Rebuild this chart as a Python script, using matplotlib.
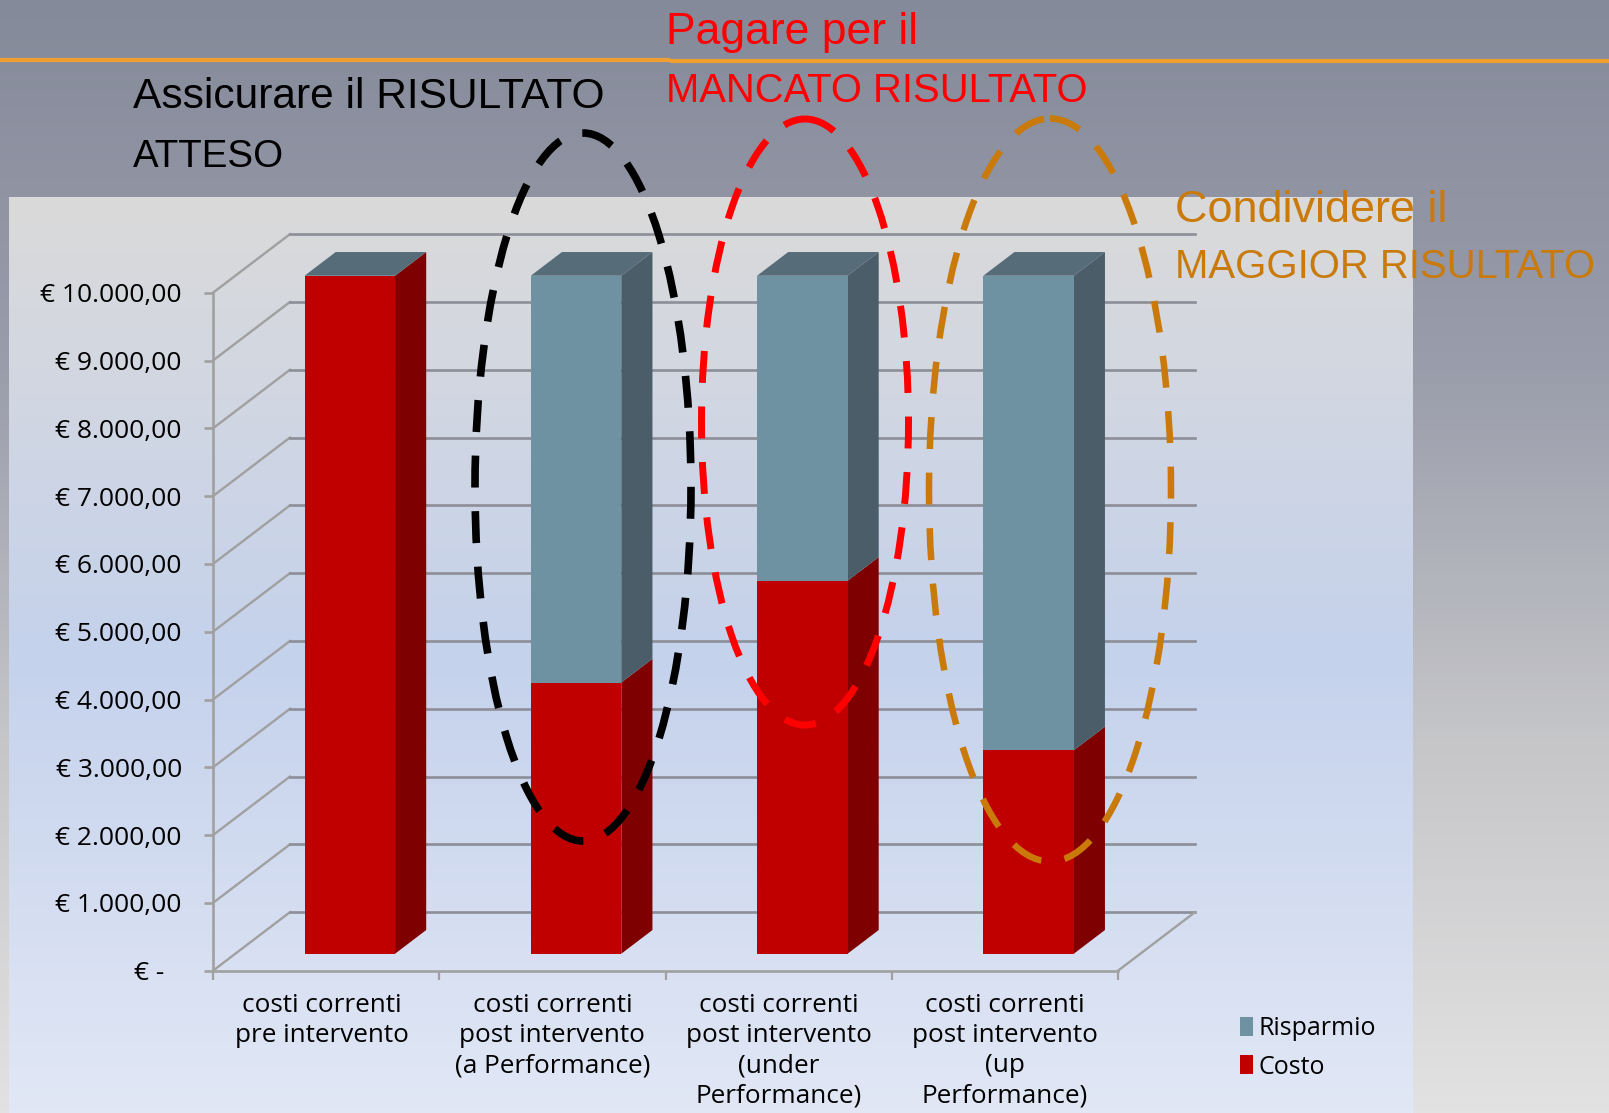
import numpy as np
import matplotlib
matplotlib.use("Agg")
import matplotlib.pyplot as plt
from matplotlib.colors import LinearSegmentedColormap
from matplotlib.patches import Ellipse, Patch, Polygon
from matplotlib.transforms import ScaledTranslation

# ========================
# data
# ========================
categories = [
    "costi correnti\npre intervento",
    "costi correnti\npost intervento\n(a Performance)",
    "costi correnti\npost intervento\n(under\nPerformance)",
    "costi correnti\npost intervento\n(up\nPerformance)",
]
costo = [10000, 4000, 5500, 3000]
risparmio = [0, 6000, 4500, 7000]
y_ticks = [0, 1000, 2000, 3000, 4000, 5000, 6000, 7000, 8000, 9000, 10000]
y_labels = ["€ -", "€ 1.000,00", "€ 2.000,00", "€ 3.000,00", "€ 4.000,00", "€ 5.000,00",
            "€ 6.000,00", "€ 7.000,00", "€ 8.000,00", "€ 9.000,00", "€ 10.000,00"]

W, H = 1609, 1113
RED, RED_SIDE = "#c00000", "#7f0000"
BLUE, BLUE_SIDE, BLUE_TOP = "#6f92a3", "#4a5d69", "#566d79"
ORANGE = "#c97a0a"
GRID, WALL = "#8c8e98", "#a0a0a0"

plt.rcParams["font.family"] = ["Open Sans", "DejaVu Sans"]
fig = plt.figure(figsize=(W / 100, H / 100), dpi=100)


def px_axes(left, top, right, bottom, **kw):
    return fig.add_axes([left / W, 1 - bottom / H, (right - left) / W, (bottom - top) / H], **kw)


# ========================
# backgrounds
# ========================
bg = fig.add_axes([0, 0, 1, 1], zorder=0)
bg.axis("off")
ramp = np.linspace(0, 1, 256).reshape(-1, 1)
slide = LinearSegmentedColormap.from_list("slide", ["#858a9a", "#9a9dab", "#c6c6c9", "#e2e2e2"])
bg.imshow(ramp, cmap=slide, aspect="auto", extent=(0, W, H, 0))
panel = LinearSegmentedColormap.from_list(
    "panel", [(0, "#dadada"), (0.5, "#c5d2ec"), (1, "#e1e7f5")])
bg.imshow(ramp, cmap=panel, aspect="auto", extent=(9, 1413, H, 197))
bg.set_xlim(0, W)
bg.set_ylim(H, 0)
bg.plot([0, 670], [59.5, 59.5], color="#f0a030", lw=3, solid_capstyle="butt")
bg.plot([670, W], [61, 61], color="#f0a030", lw=3, solid_capstyle="butt")

# ========================
# chart
# ========================
ax = px_axes(213, 292.7, 1118, 970.7, zorder=1)
ax.patch.set_visible(False)
ax.set_xlim(0, 4)
ax.set_ylim(0, 10000)
DX, DY = 0.34, 863  # profondita' della scena 3D in unita' dati

for v in y_ticks:
    ax.plot([0, DX], [v, v + DY], color=WALL, lw=1.7, clip_on=False, zorder=1)
    ax.plot([DX, 4 + DX], [v + DY, v + DY], color=GRID, lw=1.9, clip_on=False, zorder=1)
ax.plot([4, 4 + DX], [0, DY], color=WALL, lw=1.7, clip_on=False, zorder=1)

BAR_W = 0.4
F0, F1 = 0.29, 0.695  # fronte e retro della barra
SHIFT = 0.006


def box(x, y0, y1, front, side):
    left = x - BAR_W / 2 + F0 * DX
    right = left + BAR_W
    b0, b1 = y0 + F0 * DY, y1 + F0 * DY
    d = (F1 - F0)
    ax.add_patch(Polygon([(right, b0), (right + d * DX, b0 + d * DY),
                          (right + d * DX, b1 + d * DY), (right, b1)],
                         fc=side, ec="none", clip_on=False, zorder=2))
    ax.add_patch(Polygon([(left, b0), (right, b0), (right, b1), (left, b1)],
                         fc=front, ec="none", clip_on=False, zorder=3))


for i in range(len(categories)):
    x = i + 0.5 + SHIFT
    box(x, 0, costo[i], RED, RED_SIDE)
    top = costo[i] + risparmio[i]
    if risparmio[i] > 0:
        box(x, costo[i], top, BLUE, BLUE_SIDE)
    left = x - BAR_W / 2 + F0 * DX
    right = left + BAR_W
    t = top + F0 * DY
    d = F1 - F0
    ax.add_patch(Polygon([(left, t), (right, t), (right + d * DX, t + d * DY),
                          (left + d * DX, t + d * DY)],
                         fc=BLUE_TOP, ec="none", clip_on=False, zorder=3))

for s in ["top", "right"]:
    ax.spines[s].set_visible(False)
for s in ["left", "bottom"]:
    ax.spines[s].set_color(WALL)
    ax.spines[s].set_linewidth(1.9)
ax.set_yticks(y_ticks, y_labels)
ax.set_xticks(range(5))
ax.tick_params(axis="y", length=6.5, width=1.9, color=WALL, pad=16, labelsize=19)
ax.tick_params(axis="x", length=6.5, width=1.6, color=WALL, labelbottom=False)
for i, name in enumerate(categories):
    ax.annotate(name, (i + 0.5, 0), xycoords=("data", "axes fraction"),
                xytext=(-3 if i == 0 else 0, -16), textcoords="offset points",
                ha="center", va="top", fontsize=18.8, linespacing=1.27)
ax.get_yticklabels()[0].set_transform(
    ax.get_yticklabels()[0].get_transform() + ScaledTranslation(-0.18, 0, fig.dpi_scale_trans))

fig.legend(handles=[Patch(fc=BLUE, label="Risparmio"), Patch(fc=RED, label="Costo")],
           loc="lower left", bbox_to_anchor=(1217 / W, 1 - 1102 / H), frameon=False,
           fontsize=18, handlelength=0.55, handleheight=0.8, handletextpad=0.2, labelspacing=0.55)

# ========================
# testi e ellissi
# ========================
ov = fig.add_axes([0, 0, 1, 1], zorder=3)
ov.patch.set_visible(False)
ov.axis("off")
ov.set_xlim(0, W)
ov.set_ylim(H, 0)

TXT = dict(family=["Liberation Sans", "DejaVu Sans"], va="baseline")
ov.text(133, 108, "Assicurare il RISULTATO", color="black", fontsize=30.6, **TXT)
ov.text(133, 167, "ATTESO", color="black", fontsize=27.7, **TXT)
ov.text(666, 44, "Pagare per il", color="red", fontsize=32, **TXT)
ov.text(666, 102, "MANCATO RISULTATO", color="red", fontsize=28.8, **TXT)
ov.text(1175, 222, "Condividere il", color=ORANGE, fontsize=32.4, **TXT)
ov.text(1175, 278, "MAGGIOR RISULTATO", color=ORANGE, fontsize=28.9, **TXT)

ellipses = [((583, 487), 216, 708, "black", 5.5),
            ((805, 422), 207, 606, "red", 5.0),
            ((1050, 490), 242, 743, ORANGE, 4.7)]
for c, w, h, col, lw in ellipses:
    ov.add_patch(Ellipse(c, w, h, fc="none", ec=col, lw=lw, ls=(0, (23 / lw, 17 / lw))))

plt.savefig("out.png", dpi=100)
